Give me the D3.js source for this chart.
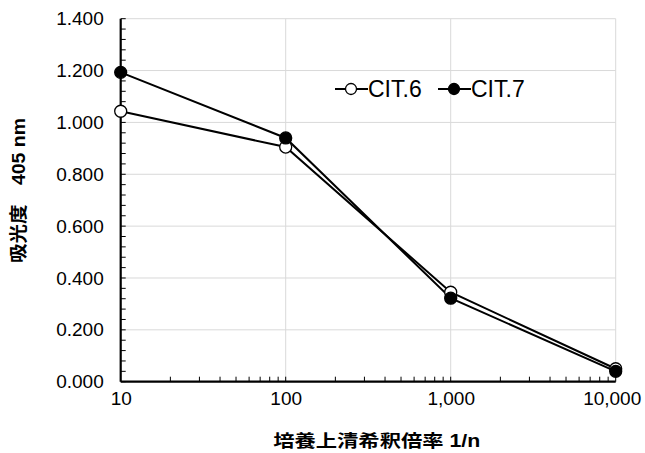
<!DOCTYPE html>
<html><head><meta charset="utf-8">
<script src="https://cdn.jsdelivr.net/npm/d3@7"></script>
<style>body{margin:0;background:#fff}svg{display:block}</style>
</head><body>
<svg id="c" width="645" height="453"></svg>
<script>
const dilutions = [10, 100, 1000, 10000];
const cit6 = [1.043, 0.905, 0.345, 0.050];
const cit7 = [1.193, 0.940, 0.322, 0.040];
const seriesNames = ["CIT.6", "CIT.7"];
const yTicks = [0, 0.2, 0.4, 0.6, 0.8, 1.0, 1.2, 1.4];
const xTicks = [10, 100, 1000, 10000];
const xTitle = "培養上清希釈倍率 1/n";
const yTitle = "吸光度　405 nm";

const svg = d3.select("#c");
const L = 120.7, R = 615.7, T = 18.7, B = 381.7;
const x = d3.scaleLog().domain([10, 10000]).range([L, R]);
const y = d3.scaleLinear().domain([0, 1.4]).range([B, T]);
const font = "Liberation Sans, Arial, sans-serif";
const cjkFont = "Liberation Sans, Noto Sans CJK JP, sans-serif";

// gridlines
svg.append("g").selectAll("line").data(yTicks.slice(1)).join("line")
  .attr("x1", L).attr("x2", R).attr("y1", d => y(d)).attr("y2", d => y(d))
  .attr("stroke", "#d9d9d9").attr("stroke-width", 1);
svg.append("g").selectAll("line").data(xTicks.slice(1)).join("line")
  .attr("x1", d => x(d)).attr("x2", d => x(d)).attr("y1", T).attr("y2", B)
  .attr("stroke", "#d9d9d9").attr("stroke-width", 1);

// minor ticks y
const yMinor = d3.range(0, 1.4001, 0.04);
svg.append("g").selectAll("line").data(yMinor).join("line")
  .attr("x1", L).attr("x2", L + 5).attr("y1", d => y(d)).attr("y2", d => y(d))
  .attr("stroke", "#000").attr("stroke-width", 1);
// minor ticks x
const xMinor = [];
[10, 100, 1000].forEach(b => { for (let k = 2; k <= 10; k++) xMinor.push(b * k); });
svg.append("g").selectAll("line").data(xMinor).join("line")
  .attr("x1", d => x(d)).attr("x2", d => x(d)).attr("y1", B).attr("y2", B - 5)
  .attr("stroke", "#000").attr("stroke-width", 1);

// axes
const yAxis = svg.append("g").attr("transform", `translate(${L},0)`)
  .call(d3.axisLeft(y).tickValues(yTicks).tickFormat(d3.format(".3f")).tickSize(0).tickPadding(17));
const xAxis = svg.append("g").attr("transform", `translate(0,${B})`)
  .call(d3.axisBottom(x).tickValues(xTicks).tickFormat(d3.format(",")).tickSize(0).tickPadding(10));
[yAxis, xAxis].forEach(a => {
  a.select(".domain").attr("stroke", "#000").attr("stroke-width", 2.2);
  a.selectAll("text").attr("font-family", font).attr("font-size", 19).attr("fill", "#000");
});
xAxis.select(".domain").attr("d", `M${L},0H${R}`);
yAxis.select(".domain").attr("d", `M0,${T}V${B}`);
xAxis.selectAll(".tick text").filter(d => d === 10000).attr("dx", -4);

// lines
const line = d3.line().x((d, i) => x(dilutions[i])).y(d => y(d));
const series = [
  {name: seriesNames[0], vals: cit6, fill: "#fff"},
  {name: seriesNames[1], vals: cit7, fill: "#000"}
];
series.forEach(s => {
  svg.append("path").attr("d", line(s.vals)).attr("fill", "none")
    .attr("stroke", "#000").attr("stroke-width", 2);
});
series.forEach(s => {
  svg.append("g").selectAll("circle").data(s.vals).join("circle")
    .attr("cx", (d, i) => x(dilutions[i])).attr("cy", d => y(d)).attr("r", 6)
    .attr("fill", s.fill).attr("stroke", "#000").attr("stroke-width", 1.3);
});

// legend
const lg = svg.append("g").attr("font-family", font).attr("font-size", 23);
const legX = [335, 438];
series.forEach((s, i) => {
  const g = lg.append("g").attr("transform", `translate(${legX[i]},89)`);
  g.append("line").attr("x1", 0).attr("x2", 33).attr("y1", 0).attr("y2", 0)
    .attr("stroke", "#000").attr("stroke-width", 2);
  g.append("circle").attr("cx", 16).attr("cy", 0).attr("r", 5.5)
    .attr("fill", s.fill).attr("stroke", "#000").attr("stroke-width", 1.3);
  g.append("text").attr("x", 33).attr("y", 8.2).text(s.name);
});

// titles
svg.append("text").attr("x", 376.7).attr("y", 447).attr("text-anchor", "middle")
  .attr("font-family", cjkFont).attr("font-weight", "bold")
  .attr("font-size", 17.5).attr("textLength", 207).attr("lengthAdjust", "spacingAndGlyphs")
  .text(xTitle);
svg.append("text").attr("transform", `translate(25,190.5) rotate(-90)`)
  .attr("text-anchor", "middle")
  .attr("font-family", cjkFont).attr("font-weight", "bold")
  .attr("font-size", 18).attr("textLength", 145).attr("lengthAdjust", "spacingAndGlyphs")
  .text(yTitle);
</script>
</body></html>
